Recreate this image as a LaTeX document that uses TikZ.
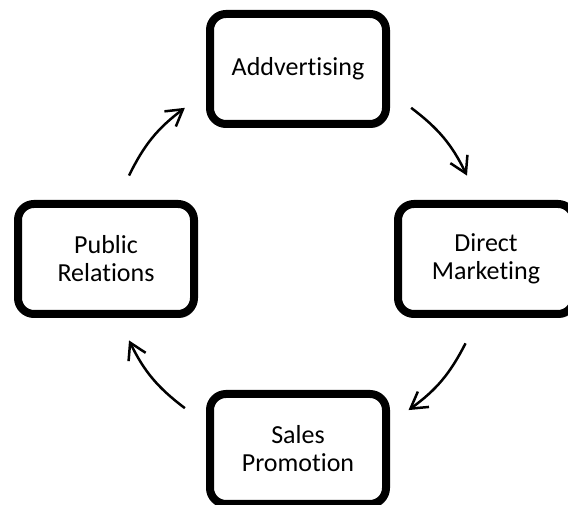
\documentclass[tikz,border=0pt]{standalone}
\usepackage{fontspec}
\setmainfont{Carlito}[Ligatures=NoCommon]
\usetikzlibrary{arrows.meta,shadows}
\tikzset{
  mixbox/.style={shape=rectangle,rounded corners=16pt,draw=black,line width=8pt,fill=white,
    minimum width=176pt,minimum height=110pt,align=center,
    font=\fontsize{26}{28}\selectfont,
    drop shadow={shadow xshift=2pt,shadow yshift=-4pt,opacity=0.3,fill=black}},
  cycarrow/.style={line width=2.5pt,-{Straight Barb[length=16pt,width=19pt,line width=2.5pt]}}
}
\begin{document}
\begin{tikzpicture}[x=1pt,y=1pt]
 \useasboundingbox (0,0) rectangle (568,505);
 \node (ctr) at (298,247) {};
 \node (adv) at (298,436) [mixbox] {Addvertising};
 \node (dm) at (486,246) [mixbox] {Direct\\Marketing};
 \node (sp) at (298,56) [mixbox] {Sales\\Promotion};
 \node (pr) at (106,246) [mixbox] {Public\\Relations};
 \coordinate (a1s) at ([shift={(53:188)}]ctr.center);
 \coordinate (a1e) at ([shift={(26:188)}]ctr.center);
 \coordinate (a2s) at ([shift={(-27:188)}]ctr.center);
 \coordinate (a2e) at ([shift={(-54:188)}]ctr.center);
 \coordinate (a3s) at ([shift={(233:188)}]ctr.center);
 \coordinate (a3e) at ([shift={(206:188)}]ctr.center);
 \coordinate (a4s) at ([shift={(154:188)}]ctr.center);
 \coordinate (a4e) at ([shift={(127:188)}]ctr.center);
 \draw[cycarrow] (a1s) to [bend left=13.5] (a1e);
 \draw[cycarrow] (a2s) to [bend left=13.5] (a2e);
 \draw[cycarrow] (a3s) to [bend left=13.5] (a3e);
 \draw[cycarrow] (a4s) to [bend left=13.5] (a4e);
\end{tikzpicture}
\end{document}
